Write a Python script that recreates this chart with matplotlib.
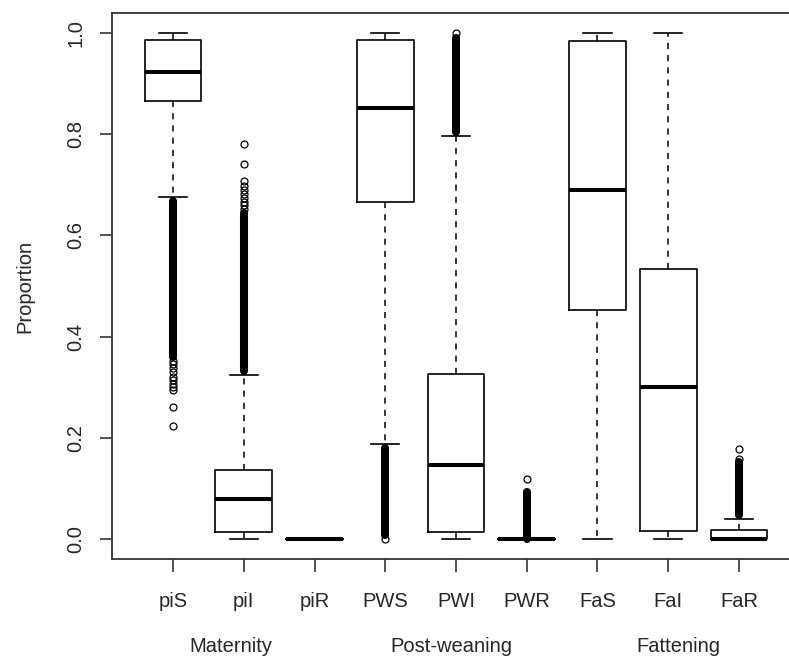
import matplotlib
matplotlib.use('Agg')
import matplotlib.pyplot as plt
from matplotlib.transforms import blended_transform_factory

# ---------------- data ----------------
categories = ['piS', 'piI', 'piR', 'PWS', 'PWI', 'PWR', 'FaS', 'FaI', 'FaR']
q1 = [0.865, 0.013, 0.0, 0.666, 0.013, 0.0, 0.4525, 0.016, 0.0]
med = [0.923, 0.078, 0.0, 0.853, 0.145, 0.0, 0.690, 0.300, 0.0]
q3 = [0.986, 0.136, 0.0, 0.986, 0.3265, 0.0, 0.984, 0.533, 0.0174]
whislo = [0.677, 0.0, 0.0, 0.1875, 0.0, 0.0, 0.0, 0.0, 0.0]
whishi = [1.0, 0.324, 0.0, 1.0, 0.797, 0.0, 1.0, 1.0, 0.040]
# isolated outliers (drawn as open circles)
fliers = [
    [0.352, 0.345, 0.338, 0.330, 0.320, 0.314, 0.307, 0.301, 0.294, 0.260, 0.223],
    [0.652, 0.660, 0.667, 0.675, 0.682, 0.689, 0.698, 0.708, 0.741, 0.780],
    [],
    [0.0],
    [1.0],
    [0.1177],
    [],
    [],
    [0.158, 0.178],
]
# ranges where outliers overlap into a solid column
dense_lo = [0.360, 0.332, None, 0.008, 0.805, 0.0, None, None, 0.048]
dense_hi = [0.669, 0.645, None, 0.179, 0.990, 0.092, None, None, 0.152]
groups = ['Maternity', 'Post-weaning', 'Fattening']
group_pos = [1.82, 4.94, 8.14]
yticks = [0.0, 0.2, 0.4, 0.6, 0.8, 1.0]
ytick_labels = ['0.0', '0.2', '0.4', '0.6', '0.8', '1.0']

# ---------------- figure ----------------
plt.rcParams['font.family'] = ['Liberation Sans', 'DejaVu Sans']
TXT = '#262626'
W, H = 789, 661
fig = plt.figure(figsize=(W / 100, H / 100), dpi=100)
ax = fig.add_axes([112.2 / W, (H - 559) / H, 687.6 / W, 546 / H])

positions = list(range(1, len(categories) + 1))
stats = []
for i in range(len(categories)):
    stats.append(dict(med=med[i], q1=q1[i], q3=q3[i], whislo=whislo[i],
                      whishi=whishi[i], fliers=fliers[i], label=categories[i]))

ax.bxp(stats, positions=positions, widths=0.8, capwidths=0.4,
       showfliers=True, patch_artist=False,
       boxprops=dict(color='black', linewidth=1.2),
       medianprops=dict(color='black', linewidth=2.9, solid_capstyle='butt'),
       whiskerprops=dict(color='black', linewidth=1.1, linestyle=(0, (4, 4))),
       capprops=dict(color='black', linewidth=1.2),
       flierprops=dict(marker='o', markerfacecolor='none', markeredgecolor='black',
                       markersize=5.0, markeredgewidth=0.9, linestyle='none'))

for p, lo, hi in zip(positions, dense_lo, dense_hi):
    if lo is None:
        continue
    ax.plot([p, p], [lo, hi], color='black', lw=5.8, solid_capstyle='round', zorder=3)

ax.set_xlim(0.14, 9.86)
ax.set_ylim(-0.04, 1.04)

for s in ax.spines.values():
    s.set_color('#333333')
    s.set_linewidth(1.3)

ax.set_xticks(positions)
ax.set_xticklabels(categories)
ax.set_yticks(yticks)
ax.set_yticklabels(ytick_labels)
ax.tick_params(axis='both', direction='out', length=9, width=1.2, color='#333333',
               labelsize=14.5, labelcolor=TXT)
ax.tick_params(axis='x', pad=25.6)
ax.tick_params(axis='y', pad=13)
for lab in ax.get_xticklabels():
    lab.set_va('baseline')
for lab in ax.get_yticklabels():
    lab.set_rotation(90)
    lab.set_rotation_mode('anchor')
    lab.set_ha('center')
    lab.set_va('baseline')

fig.text(30 / W, (H - 286) / H, 'Proportion', rotation=90, rotation_mode='anchor',
         ha='center', va='baseline', fontsize=14.5, color=TXT)

trans = blended_transform_factory(ax.transData, fig.transFigure)
for name, xp in zip(groups, group_pos):
    ax.text(xp, (H - 652) / H, name, transform=trans, ha='center', va='baseline',
            fontsize=14.5, color=TXT, clip_on=False)

fig.savefig('out.png', dpi=100)
